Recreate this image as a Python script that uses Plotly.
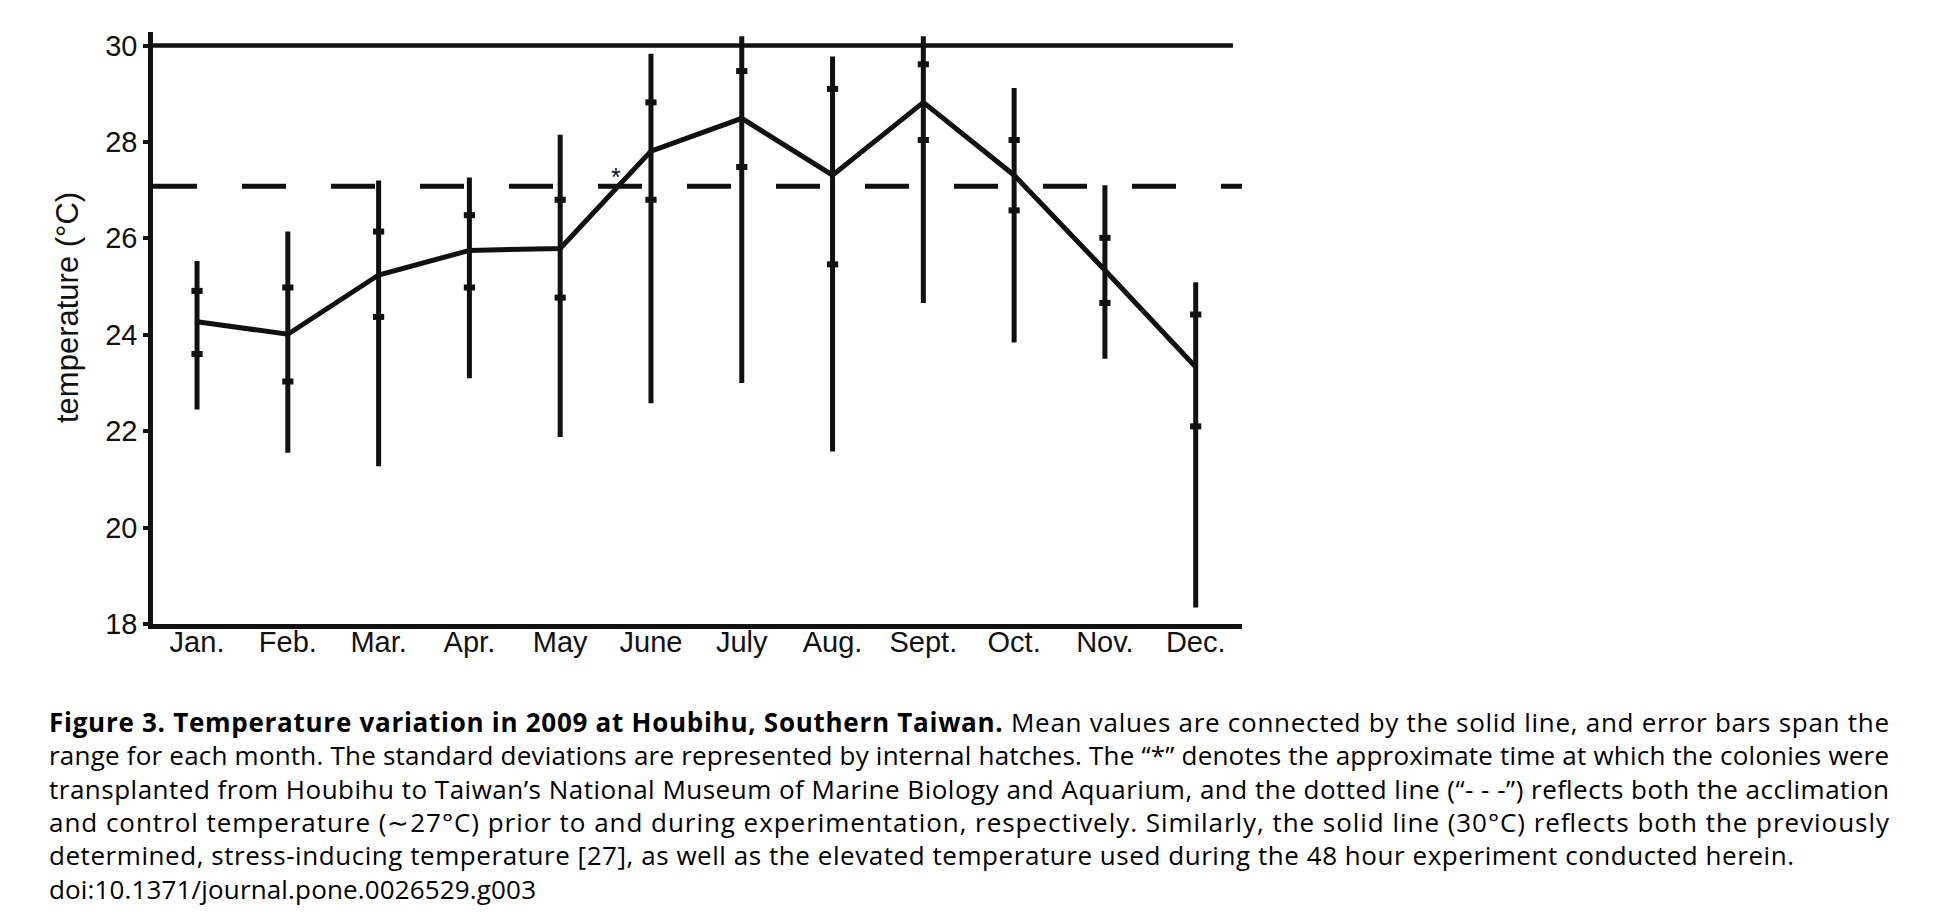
import json
import plotly.graph_objects as go

# ---------------- data ----------------
months = ["Jan.", "Feb.", "Mar.", "Apr.", "May", "June", "July", "Aug.", "Sept.", "Oct.", "Nov.", "Dec."]
mean_temp = [24.27, 24.01, 25.24, 25.75, 25.79, 27.81, 28.49, 27.31, 28.82, 27.31, 25.34, 23.33]
max_temp = [25.53, 26.14, 27.20, 27.26, 28.15, 29.83, 30.19, 29.77, 30.19, 29.12, 27.10, 25.09]
min_temp = [22.45, 21.55, 21.27, 23.10, 21.88, 22.58, 23.00, 21.58, 24.66, 23.84, 23.50, 18.34]
sd_upper = [24.91, 24.98, 26.14, 26.48, 26.80, 28.82, 29.47, 29.10, 29.61, 28.04, 26.01, 24.42]
sd_lower = [23.60, 23.03, 24.37, 24.98, 24.77, 26.80, 27.48, 25.46, 28.04, 26.58, 24.66, 22.10]
y_ticks = [18, 20, 22, 24, 26, 28, 30]
stress_temp = 30
acclimation_temp = 27.08
transplant_x = 4.62
transplant_y = 27.28

caption_lines = [
    "<b>Figure 3. Temperature variation in 2009 at Houbihu, Southern Taiwan.</b> Mean values are connected by the solid line, and error bars span the",
    "range for each month. The standard deviations are represented by internal hatches. The \u201c*\u201d denotes the approximate time at which the colonies were",
    "transplanted from Houbihu to Taiwan\u2019s National Museum of Marine Biology and Aquarium, and the dotted line (\u201c- - -\u201d) reflects both the acclimation",
    "and control temperature (\u223c27\u00b0C) prior to and during experimentation, respectively. Similarly, the solid line (30\u00b0C) reflects both the previously",
    "determined, stress-inducing temperature [27], as well as the elevated temperature used during the 48 hour experiment conducted herein.",
    "doi:10.1371/journal.pone.0026529.g003",
]

# ---------------- layout constants (pixels) ----------------
W, H = 1940, 924
ML, MR, MT, MB = 153, 698, 32, 300
PW, PH = W - ML - MR, H - MT - MB
X_RANGE = [-0.485, 11.51]
Y_RANGE = [18, 30.28]
INK = "#111111"

def px_x(px):
    return (px - ML) / PW

def px_y(py):
    return (H - MB - py) / PH

x_idx = list(range(len(months)))

fig = go.Figure()

# range bars with mean line
fig.add_trace(go.Scatter(
    x=x_idx, y=mean_temp, mode="lines",
    line=dict(color=INK, width=5),
    error_y=dict(type="data", symmetric=False,
                 array=[hi - m for hi, m in zip(max_temp, mean_temp)],
                 arrayminus=[m - lo for m, lo in zip(mean_temp, min_temp)],
                 color=INK, thickness=5, width=0),
    showlegend=False, hoverinfo="skip",
))

# standard deviation hatches
fig.add_trace(go.Scatter(
    x=x_idx + x_idx, y=sd_upper + sd_lower, mode="markers",
    marker=dict(symbol="line-ew", size=8, line=dict(color=INK, width=6)),
    showlegend=False, hoverinfo="skip",
))

# reference lines
fig.add_shape(type="line", xref="x", yref="y", x0=X_RANGE[0], x1=11.41,
              y0=stress_temp, y1=stress_temp, line=dict(color=INK, width=4.5))
fig.add_shape(type="line", xref="paper", yref="y", x0=0, x1=1,
              y0=acclimation_temp, y1=acclimation_temp,
              line=dict(color=INK, width=5, dash="44px,45px"))

annotations = []
annotations.append(dict(x=transplant_x, y=transplant_y, xref="x", yref="y", text="*",
                        showarrow=False, font=dict(family="Liberation Sans, Arial", size=25, color=INK),
                        xanchor="center", yanchor="middle"))
annotations.append(dict(x=px_x(67), y=px_y(308), xref="paper", yref="paper",
                        text="temperature (\u00b0C)", textangle=-90, showarrow=False,
                        font=dict(family="Liberation Sans, Arial", size=31, color=INK),
                        xanchor="center", yanchor="middle"))

cap_start = len(annotations)
cap_y0, cap_dy = 722, 33.3
for i, line in enumerate(caption_lines):
    annotations.append(dict(x=px_x(47), y=px_y(cap_y0 + i * cap_dy), xref="paper", yref="paper",
                            text=line, showarrow=False, align="left",
                            font=dict(family="Open Sans", size=26, color="#000000"),
                            xanchor="left", yanchor="middle"))

caption_widths = {cap_start + 0: 1840, cap_start + 1: 1840, cap_start + 2: 1840,
                  cap_start + 3: 1840, cap_start + 4: 1745, cap_start + 5: 487}

fig.update_layout(
    width=W, height=H,
    margin=dict(l=ML, r=MR, t=MT, b=MB, pad=0),
    paper_bgcolor="white", plot_bgcolor="white",
    font=dict(family="Liberation Sans, Arial", color=INK),
    annotations=annotations,
    xaxis=dict(range=X_RANGE, tickmode="array", tickvals=x_idx, ticktext=months,
               showline=True, linewidth=4.5, linecolor=INK, ticks="", ticklen=0,
               ticklabelstandoff=-12,
               showgrid=False, zeroline=False,
               tickfont=dict(family="Liberation Sans, Arial", size=29, color=INK)),
    yaxis=dict(range=Y_RANGE, tickmode="array", tickvals=y_ticks,
               showline=True, linewidth=4.5, linecolor=INK, ticks="outside",
               ticklen=5, tickwidth=4, tickcolor=INK,
               showgrid=False, zeroline=False,
               tickfont=dict(family="Liberation Sans, Arial", size=29, color=INK)),
)

post_js = """
document.body.style.margin = '0';
var gd = document.getElementById('{plot_id}');
var W = %s;
function fitCaption(){
  for (var k in W){
    var t = gd.querySelector('g.annotation[data-index="' + k + '"] text.annotation-text');
    if (t){ t.setAttribute('textLength', W[k]); t.setAttribute('lengthAdjust', 'spacing'); }
  }
}
fitCaption();
gd.on('plotly_afterplot', fitCaption);
""" % json.dumps({str(k): v for k, v in caption_widths.items()})

fig.write_html("out.html", post_script=post_js, config={"displayModeBar": False})
